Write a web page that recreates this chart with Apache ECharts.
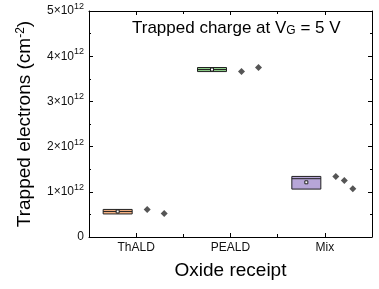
<!DOCTYPE html>
<html>
<head>
<meta charset="utf-8">
<script src="https://cdn.jsdelivr.net/npm/echarts@6/dist/echarts.min.js"></script>
<style>
  html, body { margin: 0; padding: 0; background: #fff; }
  #chart { width: 379px; height: 289px; }
</style>
</head>
<body>
<div id="chart"></div>
<script>
// values in units of 1e12 cm^-2
const categories = ['ThALD', 'PEALD', 'Mix'];
const boxLow = [0.51, 3.66, 1.06];
const boxHigh = [0.61, 3.75, 1.34];
const medians = [0.565, 3.705, 1.29];
const means = [0.565, 3.705, 1.21];
const points = [
  [0.61, 0.52],
  [3.66, 3.75],
  [1.34, 1.25, 1.07]
];
const yTicks = [0, 1, 2, 3, 4, 5];
const boxColors = ['#f4b183', '#8fcf8a', '#b7a6d8'];

const chart = echarts.init(document.getElementById('chart'));

const boxData = categories.map((c, i) => [i, boxLow[i], boxHigh[i], medians[i], means[i]]);
const pointData = [];
points.forEach((arr, i) => {
  arr.forEach((v, j) => pointData.push([i, v, j, arr.length]));
});

const fontFamily = 'Liberation Sans, Arial, sans-serif';

function catAxis(pos, major) {
  return {
    type: 'category',
    data: categories,
    position: pos,
    axisLine: { show: major, lineStyle: { color: '#000', width: 1 } },
    axisTick: { show: true, inside: true, alignWithLabel: major, length: major ? 4 : 3, lineStyle: { color: '#000' } },
    axisLabel: { show: false },
    splitLine: { show: false }
  };
}

function valAxis(pos, labels) {
  return {
    type: 'value',
    position: pos,
    min: yTicks[0],
    max: yTicks[yTicks.length - 1],
    interval: 1,
    axisLine: { show: true, lineStyle: { color: '#000', width: 1 } },
    axisTick: { show: true, inside: true, length: 4, lineStyle: { color: '#000' } },
    minorTick: { show: true, splitNumber: 2, length: 2, lineStyle: { color: '#000' } },
    splitLine: { show: false },
    axisLabel: labels ? {
      color: '#111',
      fontFamily,
      margin: 5,
      padding: [0, 0, 5, 0],
      formatter: v => v === 0 ? '{b|0}' : '{b|' + v + '×10}{s|12}',
      rich: {
        b: { fontSize: 12, fontFamily, color: '#111', lineHeight: 13, padding: [5, 0, 0, 0] },
        s: { fontSize: 9, fontFamily, color: '#111', lineHeight: 9, verticalAlign: 'top' }
      }
    } : { show: false }
  };
}

const xMain = catAxis('bottom', true);
xMain.axisLabel = { show: true, fontSize: 12, color: '#111', fontFamily, margin: 5 };
xMain.name = 'Oxide receipt';
xMain.nameLocation = 'middle';
xMain.nameGap = 24;
xMain.nameTextStyle = { fontSize: 19, color: '#000', fontFamily };

const yMain = valAxis('left', true);
yMain.name = 'Trapped electrons (cm{s|-2})';
yMain.nameLocation = 'middle';
yMain.nameGap = 55;
yMain.nameTextStyle = {
  fontSize: 19, color: '#000', fontFamily,
  rich: {
    s: { fontSize: 12, fontFamily, color: '#000', lineHeight: 12, verticalAlign: 'top' }
  }
};

chart.setOption({
  animation: false,
  textStyle: { fontFamily },
  title: {
    text: 'Trapped charge at V{sub|G} = 5 V',
    left: 127,
    top: 15,
    textStyle: {
      fontSize: 17,
      fontWeight: 'normal',
      color: '#000',
      fontFamily,
      rich: {
        sub: { fontSize: 12, fontFamily, color: '#000', lineHeight: 12, verticalAlign: 'bottom', padding: [7, 0, 0, 0] }
      }
    }
  },
  grid: { left: 89, right: 7, top: 9, bottom: 52 },
  xAxis: [xMain, catAxis('bottom', false), catAxis('top', true), catAxis('top', false)],
  yAxis: [yMain, valAxis('right', false)],
  series: [{
    type: 'custom',
    xAxisIndex: 0,
    yAxisIndex: 0,
    data: boxData,
    renderItem: (params, api) => {
      const i = api.value(0);
      const top = api.coord([i, api.value(2)]);
      const bot = api.coord([i, api.value(1)]);
      const med = api.coord([i, api.value(3)]);
      const mean = api.coord([i, api.value(4)]);
      const x0 = top[0] - 33;
      const w = 29;
      const cx = x0 + w / 2;
      return {
        type: 'group',
        children: [{
          type: 'rect',
          shape: { x: x0, y: top[1], width: w, height: bot[1] - top[1] },
          style: { fill: boxColors[i], stroke: '#222', lineWidth: 1 }
        }, {
          type: 'line',
          shape: { x1: x0, y1: med[1], x2: x0 + w, y2: med[1] },
          style: { stroke: '#222', lineWidth: 1 }
        }, {
          type: 'rect',
          shape: { x: cx - 1.5, y: mean[1] - 1.5, width: 3, height: 3 },
          style: { fill: '#fff', stroke: '#222', lineWidth: 1 }
        }]
      };
    }
  }, {
    type: 'custom',
    xAxisIndex: 0,
    yAxisIndex: 0,
    data: pointData,
    renderItem: (params, api) => {
      const p = api.coord([api.value(0), api.value(1)]);
      const j = api.value(2);
      const n = api.value(3);
      const x = p[0] + 11 + (n > 1 ? j * 17 / (n - 1) : 0);
      const y = p[1];
      const r = 3.5;
      return {
        type: 'polygon',
        shape: { points: [[x, y - r], [x + r, y], [x, y + r], [x - r, y]] },
        style: { fill: '#555' }
      };
    }
  }]
});
</script>
</body>
</html>
